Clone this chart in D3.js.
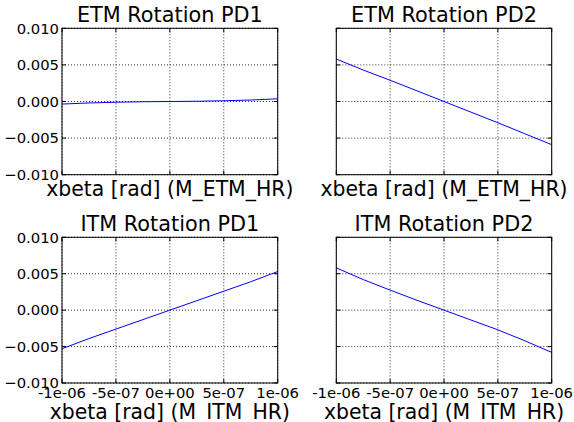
<!DOCTYPE html>
<html>
<head>
<meta charset="utf-8">
<script src="https://cdn.jsdelivr.net/npm/d3@7"></script>
<style>
html,body{margin:0;padding:0;background:#fff;overflow:hidden;}
svg{display:block;}
text{font-family:"DejaVu Sans",sans-serif;fill:#000;}
</style>
</head>
<body>
<svg id="chart" width="574" height="422"></svg>
<script>
// ---- data ----
const xbeta = [-1e-6, -7.5e-7, -5e-7, -2.5e-7, 0, 2.5e-7, 5e-7, 7.5e-7, 1e-6];
const etmPD1 = [-0.00035, -0.0002, -0.0001, -0.00003, 0, 0.00003, 0.0001, 0.0002, 0.00037];
const etmPD2 = [0.0058, 0.0043, 0.0029, 0.00145, 0, -0.00145, -0.0029, -0.0044, -0.0059];
const itmPD1 = [-0.0053, -0.0039, -0.0026, -0.0013, 0, 0.0013, 0.0026, 0.0039, 0.0053];
const itmPD2 = [0.0058, 0.0042, 0.00275, 0.00135, 0, -0.00135, -0.0027, -0.0042, -0.0058];
const titles = ["ETM Rotation PD1", "ETM Rotation PD2", "ITM Rotation PD1", "ITM Rotation PD2"];
const xLabels = ["xbeta [rad] (M_ETM_HR)", "xbeta [rad] (M_ETM_HR)", "xbeta [rad] (M_ITM_HR)", "xbeta [rad] (M_ITM_HR)"];
const xTicks = [-1e-6, -5e-7, 0, 5e-7, 1e-6];
const xTickLabels = ["-1e-06", "-5e-07", "0e+00", "5e-07", "1e-06"];
const yTicks = [0.010, 0.005, 0, -0.005, -0.010];
const yTickLabels = ["0.010", "0.005", "0.000", "\u22120.005", "\u22120.010"];
const series = [etmPD1, etmPD2, itmPD1, itmPD2];

// ---- layout ----
const panels = [
  {x0: 62, x1: 277.7, y0: 28.3, y1: 174.7, yl: true, xl: false},
  {x0: 336.3, x1: 551.7, y0: 28.3, y1: 174.7, yl: false, xl: false},
  {x0: 62, x1: 277.7, y0: 237.3, y1: 383, yl: true, xl: true},
  {x0: 336.3, x1: 551.7, y0: 237.3, y1: 383, yl: false, xl: true}
];

const svg = d3.select("#chart");
const tickLen = 4;

panels.forEach((p, i) => {
  const x = d3.scaleLinear().domain([-1e-6, 1e-6]).range([p.x0, p.x1]);
  const y = d3.scaleLinear().domain([-0.010, 0.010]).range([p.y1, p.y0]);
  const g = svg.append("g");
  const w = p.x1 - p.x0, h = p.y1 - p.y0;

  const clipId = "clip" + i;
  svg.append("clipPath").attr("id", clipId).append("rect")
    .attr("x", p.x0).attr("y", p.y0).attr("width", w).attr("height", h);

  // grid
  g.selectAll(".gx").data(xTicks).enter().append("line")
    .attr("x1", d => x(d)).attr("x2", d => x(d)).attr("y1", p.y0).attr("y2", p.y1)
    .attr("stroke", "#000").attr("stroke-width", 0.8).attr("stroke-dasharray", "1,2");
  g.selectAll(".gy").data(yTicks).enter().append("line")
    .attr("y1", d => y(d)).attr("y2", d => y(d)).attr("x1", p.x0).attr("x2", p.x1)
    .attr("stroke", "#000").attr("stroke-width", 0.8).attr("stroke-dasharray", "1,2");

  // data line
  const line = d3.line().x((d, k) => x(xbeta[k])).y(d => y(d));
  g.append("path").datum(series[i]).attr("d", line)
    .attr("fill", "none").attr("stroke", "#0000ff").attr("stroke-width", 1)
    .attr("clip-path", `url(#${clipId})`);

  // ticks (inward, all sides)
  xTicks.forEach(t => {
    g.append("line").attr("x1", x(t)).attr("x2", x(t)).attr("y1", p.y1).attr("y2", p.y1 - tickLen)
      .attr("stroke", "#000").attr("stroke-width", 1);
    g.append("line").attr("x1", x(t)).attr("x2", x(t)).attr("y1", p.y0).attr("y2", p.y0 + tickLen)
      .attr("stroke", "#000").attr("stroke-width", 1);
  });
  yTicks.forEach(t => {
    g.append("line").attr("y1", y(t)).attr("y2", y(t)).attr("x1", p.x0).attr("x2", p.x0 + tickLen)
      .attr("stroke", "#000").attr("stroke-width", 1);
    g.append("line").attr("y1", y(t)).attr("y2", y(t)).attr("x1", p.x1).attr("x2", p.x1 - tickLen)
      .attr("stroke", "#000").attr("stroke-width", 1);
  });

  // frame
  g.append("rect").attr("x", p.x0).attr("y", p.y0).attr("width", w).attr("height", h)
    .attr("fill", "none").attr("stroke", "#000").attr("stroke-width", 1);

  // tick labels
  if (p.yl) {
    g.selectAll(".yl").data(yTicks).enter().append("text")
      .attr("x", p.x0 - 3).attr("y", d => y(d) + 5.3)
      .attr("text-anchor", "end").attr("font-size", 14.8)
      .text((d, k) => yTickLabels[k]);
  }
  if (p.xl) {
    g.selectAll(".xl").data(xTicks).enter().append("text")
      .attr("x", d => x(d)).attr("y", p.y1 + 14.8)
      .attr("text-anchor", "middle").attr("font-size", 14.8)
      .text((d, k) => xTickLabels[k]);
  }

  // title
  g.append("text").attr("x", (p.x0 + p.x1) / 2).attr("y", p.y0 - 6)
    .attr("text-anchor", "middle").attr("font-size", 20.8).text(titles[i]);

  // x label
  g.append("text").attr("x", (p.x0 + p.x1) / 2).attr("y", p.xl ? 419.3 : 196.3)
    .attr("text-anchor", "middle").attr("font-size", 20.4).text(xLabels[i]);
});
</script>
</body>
</html>
